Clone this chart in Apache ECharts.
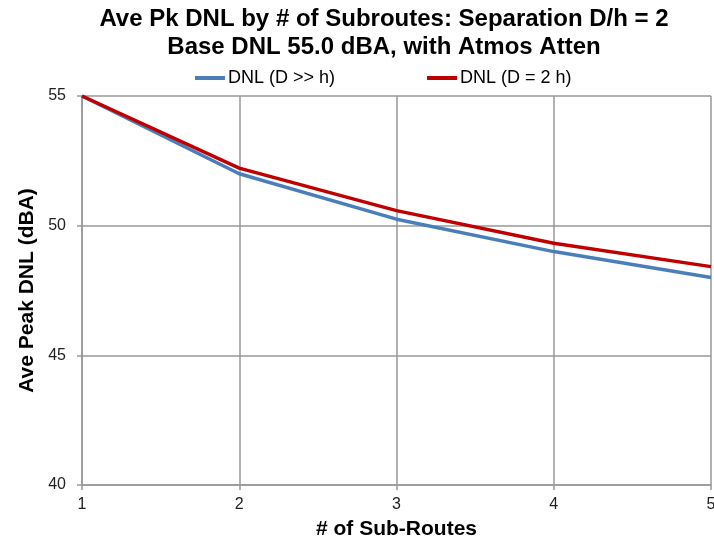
<!DOCTYPE html>
<html>
<head>
<meta charset="utf-8">
<script src="https://cdn.jsdelivr.net/npm/echarts@6/dist/echarts.min.js"></script>
<style>html,body{margin:0;padding:0;background:#fff}#c{width:714px;height:542px}</style>
</head>
<body>
<div id="c"></div>
<script>
var subroutes = [1, 2, 3, 4, 5];
var dnlFar = [55.0, 52.0, 50.25, 49.0, 48.0];
var dnlNear = [55.0, 52.22, 50.58, 49.32, 48.42];
var seriesNames = ['DNL (D >> h)', 'DNL (D = 2 h)'];
var yTicks = {min: 40, max: 55, interval: 5};

var FONT = '"Liberation Sans", Arial, sans-serif';
function pairs(xs, ys){ return xs.map(function(x,i){ return [x, ys[i]]; }); }

var chart = echarts.init(document.getElementById('c'), null, {renderer:'canvas'});
chart.setOption({
  animation: false,
  textStyle: {fontFamily: FONT},
  title: {
    text: 'Ave Pk DNL by # of Subroutes: Separation D/h = 2\nBase DNL 55.0 dBA, with Atmos Atten',
    left: 384, textAlign: 'center', top: 5, padding: 0,
    textStyle: {fontFamily: FONT, fontSize: 24, fontWeight: 'bold', color: '#000', lineHeight: 28}
  },
  legend: {
    left: 190, top: 64,
    itemWidth: 30, itemHeight: 4, itemGap: 92,
    icon: 'rect',
    textStyle: {fontFamily: FONT, fontSize: 18, color: '#000', padding: [0,0,0,-2]},
    data: seriesNames
  },
  grid: {left: 82, right: 3, top: 96, bottom: 57, containLabel: false, outerBoundsMode: 'none'},
  xAxis: {
    type: 'value', min: 1, max: 5, interval: 1,
    name: '# of Sub-Routes', nameLocation: 'middle', nameGap: 34,
    nameTextStyle: {fontFamily: FONT, fontSize: 21, fontWeight: 'bold', color: '#000'},
    axisLine: {show: true, lineStyle: {color: '#999', width: 1.5}},
    axisTick: {show: true, length: 5, lineStyle: {color: '#999', width: 1.5}},
    axisLabel: {fontFamily: FONT, fontSize: 16, color: '#222', margin: 12},
    splitLine: {show: true, lineStyle: {color: '#999', width: 1.5}}
  },
  yAxis: {
    type: 'value', min: yTicks.min, max: yTicks.max, interval: yTicks.interval,
    name: 'Ave Peak DNL (dBA)', nameLocation: 'middle', nameGap: 44,
    nameTextStyle: {fontFamily: FONT, fontSize: 21, fontWeight: 'bold', color: '#000'},
    axisLine: {show: true, lineStyle: {color: '#999', width: 1.5}},
    axisTick: {show: true, length: 5, lineStyle: {color: '#999', width: 1.5}},
    axisLabel: {fontFamily: FONT, fontSize: 16, color: '#222', margin: 16},
    splitLine: {show: true, lineStyle: {color: '#999', width: 1.5}}
  },
  series: [
    {name: seriesNames[0], type: 'line', data: pairs(subroutes, dnlFar), showSymbol: false, symbol: 'none',
     lineStyle: {color: '#4a7ebb', width: 3.5}, itemStyle: {color: '#4a7ebb'}},
    {name: seriesNames[1], type: 'line', data: pairs(subroutes, dnlNear), showSymbol: false, symbol: 'none',
     lineStyle: {color: '#c00000', width: 3.5}, itemStyle: {color: '#c00000'}}
  ]
});
</script>
</body>
</html>
